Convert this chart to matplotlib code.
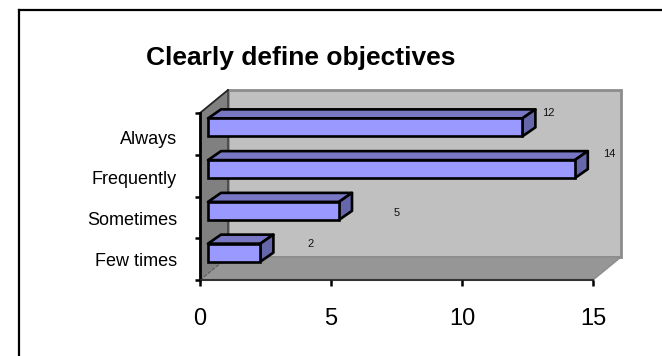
import numpy as np
import matplotlib
matplotlib.use("Agg")
import matplotlib.pyplot as plt
from matplotlib.lines import Line2D
from matplotlib.transforms import Affine2D

categories = ["Few times", "Sometimes", "Frequently", "Always"]
values = [2, 5, 14, 12]
x_ticks = [0, 5, 10, 15]

# where the value labels sit, pixels from the end of each bar
label_shift = [(58, 15.5), (66, 4.5), (42, 22), (33.6, 21)]
# category labels are spaced a bit tighter than the bars
label_y = [0, 0.98, 1.96, 2.92]

W, H = 662, 356
plt.rcParams['font.family'] = ['Liberation Sans', 'DejaVu Sans']


def main():
    fig = plt.figure(figsize=(W / 100, H / 100), dpi=100)
    fig.add_artist(Line2D([19 / W, 19 / W], [0, 1 - 10 / H], color='black', lw=1.6))
    fig.add_artist(Line2D([19 / W, 1], [1 - 10 / H, 1 - 10 / H], color='black', lw=1.6))
    fig.text(146 / W, 1 - 58 / H, "Clearly define objectives", fontsize=19, fontweight='bold', va='center')

    ax = fig.add_axes([200 / W, 1 - 280 / H, 393 / W, 167 / H])
    ax.set_xlim(0, 15)
    ax.set_ylim(-0.5, 3.5)
    ax.patch.set_visible(False)

    px = 15 / 393
    py = 4 / 167
    wx, wy = 28 * px, 23 * py
    lo, hi = -0.5, 3.5

    # walls and floor
    ax.fill([wx, 15 + wx, 15 + wx, wx], [lo + wy, lo + wy, hi + wy, hi + wy], facecolor='#c0c0c0',
            edgecolor='#8c8c8c', lw=2, clip_on=False, zorder=0.5)
    ax.fill([0, wx, wx, 0], [lo, lo + wy, hi + wy, hi], facecolor='#808080', edgecolor='#808080',
            lw=1, clip_on=False, zorder=0.6)
    ax.fill([0, 15, 15 + wx, wx], [lo, lo, lo + wy, lo + wy], facecolor='#969696', edgecolor='#8c8c8c',
            lw=1, clip_on=False, zorder=0.7)
    ax.plot([0, wx], [lo, lo + wy], color='#555555', lw=0.7, ls='--', clip_on=False, zorder=0.8)
    ax.plot([wx, wx], [lo + wy, hi + wy], color='#444444', lw=1.2, clip_on=False, zorder=0.8)
    ax.plot([0, wx], [hi, hi + wy], color='#222222', lw=1.2, clip_on=False, zorder=0.8)

    # bars sit a little way back from the front plane
    tr = ax.transData + Affine2D().translate(8, 6.5)

    y = np.arange(len(categories))
    bar_h = 18 * py
    dx, dy = 13 * px, 9 * py
    for yi, v in zip(y, values):
        b, t = yi - bar_h / 2, yi + bar_h / 2
        ax.fill([0, v, v + dx, dx], [t, t, t + dy, t + dy], facecolor='#7777c4', edgecolor='black',
                lw=1.9, joinstyle='round', transform=tr, clip_on=False, zorder=2)
        ax.fill([v, v + dx, v + dx, v], [b, b + dy, t + dy, t], facecolor='#6666aa', edgecolor='black',
                lw=1.9, joinstyle='round', transform=tr, clip_on=False, zorder=2)
    bars = ax.barh(y, values, height=bar_h, color='#9999ff', edgecolor='black', lw=1.9, zorder=3)
    for p in bars:
        p.set_transform(tr)
        p.set_clip_on(False)

    for yi, v, s in zip(y, values, label_shift):
        ax.annotate(str(v), xy=(v, yi), xytext=s, textcoords='offset pixels', fontsize=8,
                    ha='center', va='center', color='#111111', annotation_clip=False, zorder=4)

    for side in ['top', 'right']:
        ax.spines[side].set_visible(False)
    ax.spines['left'].set_linewidth(2)
    ax.spines['bottom'].set_linewidth(1.5)
    ax.spines['bottom'].set_color('#333333')
    for sp in ax.spines.values():
        sp.set_zorder(1)

    ax.set_xticks(x_ticks)
    ax.tick_params(axis='x', length=4.5, width=1.8, pad=16, labelsize=17)
    ax.set_yticks(np.arange(-0.5, 4, 1))
    ax.set_yticklabels([])
    ax.tick_params(axis='y', which='major', direction='out', length=3.5, width=1.8)
    ax.set_yticks(label_y, minor=True)
    ax.set_yticklabels(categories, minor=True)
    ax.tick_params(axis='y', which='minor', length=0, pad=16.5, labelsize=13)

    fig.savefig("out.png", dpi=100)


if __name__ == '__main__':
    main()
